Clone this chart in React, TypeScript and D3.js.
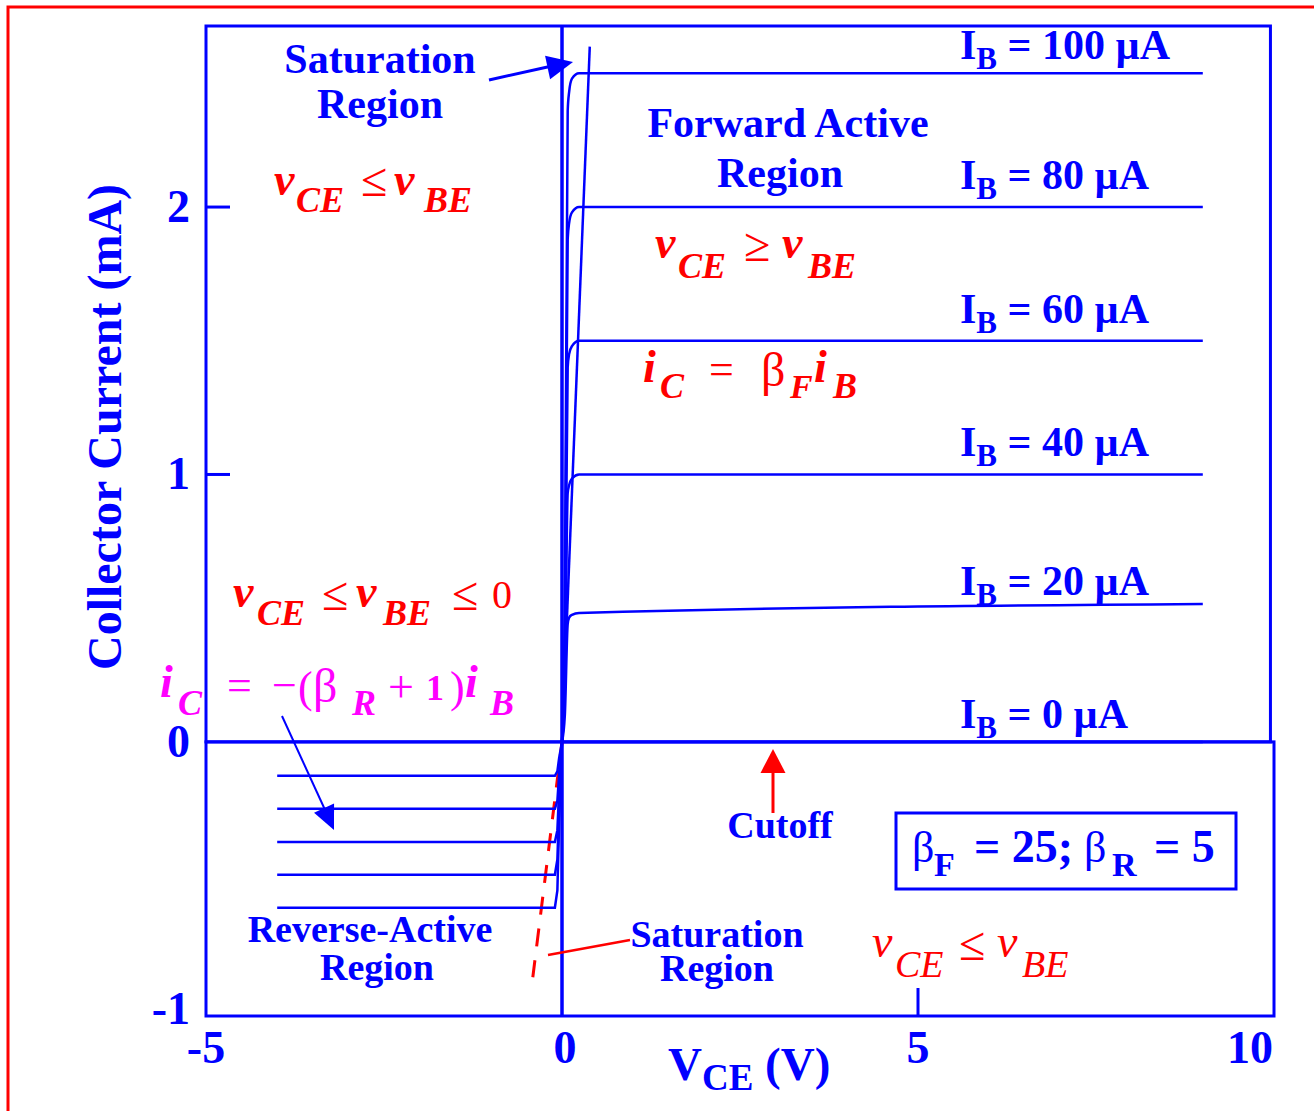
import React from 'react';
import * as d3 from 'd3';

const BLUE = '#0000ff';
const RED = '#ff0000';
const MAGENTA = '#ff00ff';
const FONT = '"Liberation Serif", "Times New Roman", serif';

// base current of each curve (uA), top to bottom
const baseCurrents = [100, 80, 60, 40, 20, 0];

// forward region: vCE (V) and iC (mA) per curve
const fwdVce = [0, 0.04, 0.08, 0.1, 0.14, 0.24, 9];
const fwdIc100 = [0, 0.5, 2.36, 2.43, 2.48, 2.5, 2.5];
const fwdIc80 = [0, 0.4, 1.88, 1.94, 1.98, 2.0, 2.0];
const fwdIc60 = [0, 0.3, 1.4, 1.45, 1.48, 1.5, 1.5];
const fwdIc40 = [0, 0.2, 0.93, 0.96, 0.985, 1.0, 1.0];
const fwdIc20 = [0, 0.1, 0.44, 0.465, 0.475, 0.482, 0.516];
const fwdIc0 = [0, 0, 0, 0, 0, 0, 0];

// reverse region
const revVce = [-4, -0.1, -0.065, -0.04, 0];
const revIc100 = [-0.62, -0.62, -0.555, -0.3, 0];
const revIc80 = [-0.497, -0.497, -0.44, -0.24, 0];
const revIc60 = [-0.374, -0.374, -0.33, -0.18, 0];
const revIc40 = [-0.25, -0.25, -0.22, -0.12, 0];
const revIc20 = [-0.127, -0.127, -0.11, -0.06, 0];

// vCE = vBE boundary lines
const satFwdV = [0, 0.39];
const satFwdI = [0, 2.6];
const satRevV = [0, -0.41];
const satRevI = [0, -0.88];

const xTicks = [-5, 0, 5, 10];
const yTicks = [2, 1, 0, -1];

const x = d3.scaleLinear().domain([-5, 10]).range([206, 1274]);
const y = d3.scaleLinear().domain([-1.025, 2.677]).range([1016, 26]);

const line = d3.line<[number, number]>()
  .x(d => x(d[0]))
  .y(d => y(d[1]))
  .curve(d3.curveMonotoneX);
const straight = d3.line<[number, number]>().x(d => x(d[0])).y(d => y(d[1]));

const zip = (a: number[], b: number[]) => a.map((v, i) => [v, b[i]] as [number, number]);

const fwdCurves = [fwdIc100, fwdIc80, fwdIc60, fwdIc40, fwdIc20, fwdIc0];
const revCurves = [revIc100, revIc80, revIc60, revIc40, revIc20];

function head(x1: number, y1: number, x2: number, y2: number, len: number, hw: number) {
  const a = Math.atan2(y2 - y1, x2 - x1);
  const bx = x2 - len * Math.cos(a), by = y2 - len * Math.sin(a);
  const px = -Math.sin(a) * hw, py = Math.cos(a) * hw;
  return `${x2},${y2} ${bx + px},${by + py} ${bx - px},${by - py}`;
}

type Piece = { t: string; x: number; y: number; s: number; b?: boolean; i?: boolean; c: string };

const mathPieces: Piece[] = [
  // top left: vCE <= vBE
  { t: 'v', x: 274, y: 195, s: 46, b: true, i: true, c: RED },
  { t: 'CE', x: 296, y: 212, s: 36, b: true, i: true, c: RED },
  { t: '≤', x: 361, y: 196, s: 48, c: RED },
  { t: 'v', x: 394, y: 195, s: 46, b: true, i: true, c: RED },
  { t: 'BE', x: 424, y: 212, s: 36, b: true, i: true, c: RED },
  // forward: vCE >= vBE
  { t: 'v', x: 655, y: 258, s: 46, b: true, i: true, c: RED },
  { t: 'CE', x: 678, y: 278, s: 36, b: true, i: true, c: RED },
  { t: '≥', x: 744, y: 261, s: 48, c: RED },
  { t: 'v', x: 782, y: 258, s: 46, b: true, i: true, c: RED },
  { t: 'BE', x: 808, y: 278, s: 36, b: true, i: true, c: RED },
  // iC = bF iB
  { t: 'i', x: 643, y: 382, s: 46, b: true, i: true, c: RED },
  { t: 'C', x: 660, y: 398, s: 36, b: true, i: true, c: RED },
  { t: '=', x: 709, y: 384, s: 44, c: RED },
  { t: 'β', x: 761, y: 386, s: 48, c: RED },
  { t: 'F', x: 790, y: 398, s: 34, b: true, i: true, c: RED },
  { t: 'i', x: 814, y: 382, s: 46, b: true, i: true, c: RED },
  { t: 'B', x: 833, y: 398, s: 36, b: true, i: true, c: RED },
  // reverse: vCE <= vBE <= 0
  { t: 'v', x: 233, y: 607, s: 46, b: true, i: true, c: RED },
  { t: 'CE', x: 257, y: 625, s: 36, b: true, i: true, c: RED },
  { t: '≤', x: 322, y: 610, s: 48, c: RED },
  { t: 'v', x: 356, y: 607, s: 46, b: true, i: true, c: RED },
  { t: 'BE', x: 383, y: 625, s: 36, b: true, i: true, c: RED },
  { t: '≤', x: 452, y: 610, s: 48, c: RED },
  { t: '0', x: 492, y: 608, s: 40, c: RED },
  // iC = -(bR + 1) iB
  { t: 'i', x: 160, y: 697, s: 46, b: true, i: true, c: MAGENTA },
  { t: 'C', x: 178, y: 715, s: 36, b: true, i: true, c: MAGENTA },
  { t: '=', x: 227, y: 700, s: 44, c: MAGENTA },
  { t: '−', x: 272, y: 700, s: 44, c: MAGENTA },
  { t: '(', x: 298, y: 702, s: 44, c: MAGENTA },
  { t: 'β', x: 313, y: 702, s: 48, c: MAGENTA },
  { t: 'R', x: 352, y: 715, s: 36, b: true, i: true, c: MAGENTA },
  { t: '+', x: 388, y: 702, s: 46, c: MAGENTA },
  { t: '1', x: 426, y: 700, s: 36, b: true, c: MAGENTA },
  { t: ')', x: 450, y: 702, s: 44, c: MAGENTA },
  { t: 'i', x: 465, y: 697, s: 46, b: true, i: true, c: MAGENTA },
  { t: 'B', x: 490, y: 715, s: 36, b: true, i: true, c: MAGENTA },
  // bottom right: vCE <= vBE
  { t: 'v', x: 872, y: 957, s: 46, i: true, c: RED },
  { t: 'CE', x: 895, y: 977, s: 38, i: true, c: RED },
  { t: '≤', x: 959, y: 960, s: 48, c: RED },
  { t: 'v', x: 997, y: 957, s: 46, i: true, c: RED },
  { t: 'BE', x: 1022, y: 977, s: 38, i: true, c: RED },
  // beta box
  { t: 'β', x: 912, y: 862, s: 44, c: BLUE },
  { t: 'F', x: 934, y: 876, s: 34, b: true, c: BLUE },
  { t: '= 25;', x: 974, y: 862, s: 46, b: true, c: BLUE },
  { t: 'β', x: 1084, y: 862, s: 44, c: BLUE },
  { t: 'R', x: 1112, y: 876, s: 34, b: true, c: BLUE },
  { t: '= 5', x: 1154, y: 862, s: 46, b: true, c: BLUE },
];

const labels: { t: string; x: number; y: number; s: number }[] = [
  { t: 'Saturation', x: 380, y: 73, s: 42 },
  { t: 'Region', x: 380, y: 118, s: 42 },
  { t: 'Forward Active', x: 788, y: 137, s: 42 },
  { t: 'Region', x: 780, y: 187, s: 42 },
  { t: 'Cutoff', x: 780, y: 838, s: 38 },
  { t: 'Reverse-Active', x: 370, y: 942, s: 38 },
  { t: 'Region', x: 377, y: 980, s: 38 },
  { t: 'Saturation', x: 717, y: 947, s: 38 },
  { t: 'Region', x: 717, y: 981, s: 38 },
];

export default function App() {
  const x0 = x(0), y0 = y(0);
  const top = y(2.677), bottom = y(-1.025);
  return (
    <div>
      <svg width={1314} height={1111} style={{ position: 'absolute', left: 0, top: 0 }} fontFamily={FONT}>
        <rect x={0} y={0} width={1314} height={1111} fill="#fff" />
        <rect x={8} y={7} width={1320} height={1120} fill="none" stroke={RED} strokeWidth={3} />

        {/* frames */}
        <rect x={x(-5)} y={top} width={x(9.95) - x(-5)} height={y0 - top} fill="none" stroke={BLUE} strokeWidth={3} />
        <rect x={x(-5)} y={y0} width={x(10) - x(-5)} height={bottom - y0} fill="none" stroke={BLUE} strokeWidth={3} />
        <line x1={x0} x2={x0} y1={top} y2={bottom} stroke={BLUE} strokeWidth={3.5} />

        {/* ticks */}
        {yTicks.filter(v => v > 0).map(v => (
          <line key={v} x1={x(-5)} x2={x(-5) + 24} y1={y(v)} y2={y(v)} stroke={BLUE} strokeWidth={3} />
        ))}
        <line x1={x(5)} x2={x(5)} y1={bottom} y2={bottom - 28} stroke={BLUE} strokeWidth={3} />
        {yTicks.map(v => (
          <text key={v} x={190} y={y(v) + 15} textAnchor="end" fontSize={46} fontWeight="bold" fill={BLUE}>{v}</text>
        ))}
        {xTicks.map(v => (
          <text key={v} x={v === 10 ? 1273 : x(v) + (v === 0 ? 3 : 0)} y={1063} textAnchor={v === 10 ? 'end' : 'middle'}
            fontSize={46} fontWeight="bold" fill={BLUE}>{v}</text>
        ))}

        {/* axis titles */}
        <text transform={`translate(121,427) rotate(-90)`} textAnchor="middle" fontSize={48} fontWeight="bold" fill={BLUE}>
          Collector Current (mA)
        </text>
        <text x={668} y={1080} fontSize={47} fontWeight="bold" fill={BLUE}>
          V<tspan fontSize={37} dy={10}>CE</tspan><tspan dy={-10}> (V)</tspan>
        </text>

        {/* boundary lines */}
        <path d={straight(zip(satFwdV, satFwdI)) ?? ''} fill="none" stroke={BLUE} strokeWidth={2.5} />
        <path d={straight(zip(satRevV, satRevI)) ?? ''} fill="none" stroke={RED} strokeWidth={3} strokeDasharray="18 14" strokeDashoffset={-28} />

        {/* characteristic curves */}
        {fwdCurves.map((c, i) => (
          <path key={'f' + i} d={line(zip(fwdVce, c)) ?? ''} fill="none" stroke={BLUE} strokeWidth={2.5} />
        ))}
        {revCurves.map((c, i) => (
          <path key={'r' + i} d={straight(zip(revVce, c)) ?? ''} fill="none" stroke={BLUE} strokeWidth={2.5} />
        ))}

        {/* IB labels */}
        {baseCurrents.map((ib, i) => (
          <text key={ib} x={960} y={y(fwdCurves[i][5]) - (i === 0 || i === 5 ? 14 : 18)} fontSize={42} fontWeight="bold" fill={BLUE}>
            I<tspan fontSize={31} dy={10}>B</tspan><tspan dy={-10}>{` = ${ib} µA`}</tspan>
          </text>
        ))}

        {/* beta box */}
        <rect x={896} y={813} width={340} height={76} fill="none" stroke={BLUE} strokeWidth={3} />

        {labels.map((l, i) => (
          <text key={i} x={l.x} y={l.y} textAnchor="middle" fontSize={l.s} fontWeight="bold" fill={BLUE}>{l.t}</text>
        ))}
        {mathPieces.map((p, i) => (
          <text key={'m' + i} x={p.x} y={p.y} fontSize={p.s} fontWeight={p.b ? 'bold' : 'normal'}
            fontStyle={p.i ? 'italic' : 'normal'} fill={p.c}>{p.t}</text>
        ))}

        {/* arrows */}
        <line x1={489} y1={80} x2={552} y2={66} stroke={BLUE} strokeWidth={3} />
        <polygon points={head(489, 80, 573, 62, 26, 12)} fill={BLUE} />
        <line x1={282} y1={716} x2={326} y2={812} stroke={BLUE} strokeWidth={2} />
        <polygon points={head(282, 716, 334, 830, 24, 11)} fill={BLUE} />
        <line x1={773} y1={813} x2={773} y2={770} stroke={RED} strokeWidth={3} />
        <polygon points={head(773, 813, 773, 749, 24, 12.5)} fill={RED} />
        <line x1={548} y1={955} x2={630} y2={940} stroke={RED} strokeWidth={2.5} />
      </svg>
    </div>
  );
}
